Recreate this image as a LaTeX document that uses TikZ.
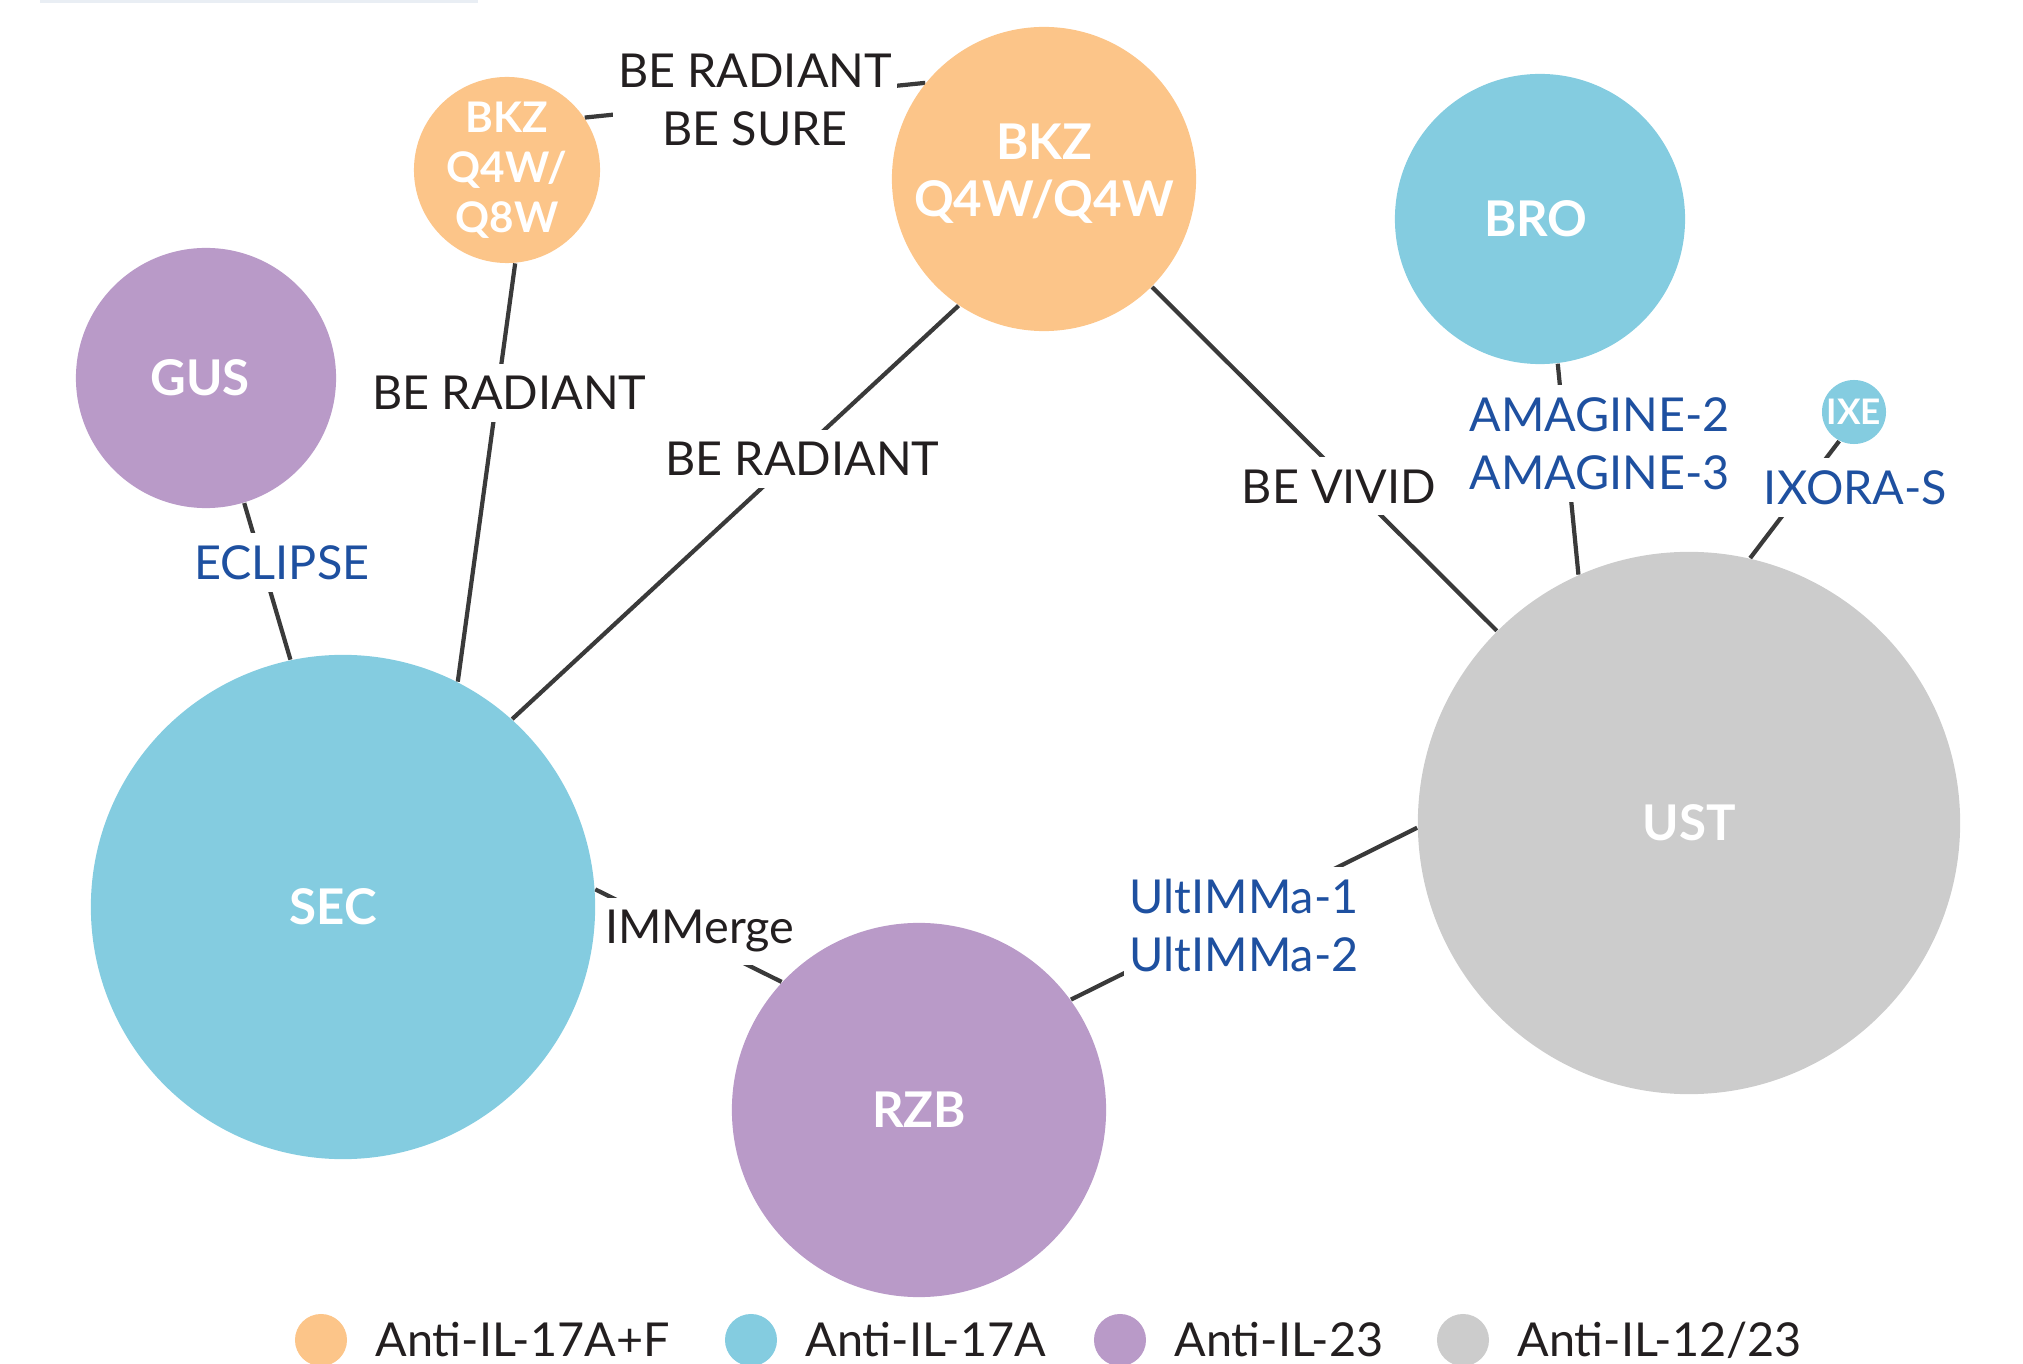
\documentclass[tikz,border=0pt]{standalone}
\usepackage{fontspec}
\setmainfont{Lato}
\usepackage{tikz}
\usetikzlibrary{positioning,calc,backgrounds}

\definecolor{orangefill}{HTML}{FCC589}
\definecolor{bluefill}{HTML}{84CCE0}
\definecolor{purplefill}{HTML}{B99AC8}
\definecolor{greyfill}{HTML}{CCCCCC}
\definecolor{trialblue}{HTML}{1E50A0}
\definecolor{linegrey}{HTML}{3A3A3A}
\definecolor{textdark}{HTML}{231F20}
\definecolor{edgeline}{HTML}{E9EEF4}

\begin{document}
\begin{tikzpicture}[x=0.01cm,y=-0.01cm,
  drug/.style={circle,inner sep=0pt,text=white,align=center,font=\fontsize{14}{16.2}\selectfont\bfseries},
  link/.style={draw=linegrey,line width=1.2pt},
  lbl/.style={fill=white,inner xsep=1.5pt,inner ysep=3.5pt,align=center,text=textdark,font=\fontsize{13.3}{16.5}\selectfont},
  trial/.style={lbl,text=trialblue},
  legdot/.style={circle,inner sep=0pt,minimum size=0.52cm}]
  \useasboundingbox (0,0) rectangle (2023,1364);
  \fill[edgeline] (40,0) rectangle (478,3);

  % drugs
  \node[drug,fill=orangefill,minimum size=1.86cm,font=\fontsize{12}{14.2}\selectfont\bfseries] (bkzq8) at (507,170) {BKZ\\Q4W/\\Q8W};
  \node[drug,fill=orangefill,minimum size=3.04cm,text depth=5pt] (bkzq4) at (1044,179) {BKZ\\Q4W/Q4W};
  \node[drug,fill=bluefill,minimum size=2.90cm] (bro) at (1540,219) {BRO\hspace*{0.08cm}};
  \node[drug,fill=purplefill,minimum size=2.60cm] (gus) at (206,378) {GUS\hspace*{0.12cm}};
  \node[drug,fill=bluefill,minimum size=0.64cm,font=\fontsize{10}{12}\selectfont\bfseries] (ixe) at (1854,412) {IXE};
  \node[drug,fill=bluefill,minimum size=5.04cm] (sec) at (343,907) {SEC\hspace*{0.2cm}};
  \node[drug,fill=greyfill,minimum size=5.42cm] (ust) at (1689,823) {UST};
  \node[drug,fill=purplefill,minimum size=3.74cm] (rzb) at (919,1110) {RZB};

  % trials
  \begin{scope}[on background layer]
  \draw[link] (bkzq8.34) -- node[lbl]{BE RADIANT\\BE SURE} (bkzq4.141);
  \draw[link] (bkzq8.275) -- node[lbl,pos=0.31,xshift=0.12cm]{BE RADIANT} (sec.63);
  \draw[link] (bkzq4.236) -- node[lbl,pos=0.37,xshift=0.09cm]{BE RADIANT} (sec.48);
  \draw[link] (bkzq4.-45) -- node[lbl,pos=0.58,xshift=-0.13cm]{BE VIVID} (ust.135);
  \draw[link] (bro.277) -- node[trial,pos=0.38,xshift=0.34cm]{AMAGINE-2\\AMAGINE-3} (ust.114);
  \draw[link] (ixe.243) -- node[trial,pos=0.4,xshift=0.52cm]{IXORA-S} (ust.77);
  \draw[link] (ust.181) -- node[trial,pos=0.5,yshift=-0.12cm]{UltIMMa-1\\UltIMMa-2} (rzb.36);
  \draw[link] (sec.4) -- node[lbl,pos=0.56,yshift=0.1cm]{IMMerge} (rzb.137);
  \draw[link] (gus.287) -- node[trial,pos=0.38,xshift=0.2cm]{ECLIPSE} (sec.102);
  \end{scope}

  % legend
  \foreach \x/\c/\name in {321/orangefill/Anti-IL-17A+F,751/bluefill/Anti-IL-17A,1120/purplefill/Anti-IL-23,1463/greyfill/{Anti-IL-12/23}}{
    \node[legdot,fill=\c] (key\x) at (\x,1340) {};
    \node[right=0.27cm of key\x,inner sep=0pt,text=textdark,font=\fontsize{13.3}{16}\selectfont] (keytext\x) {\name};
  }
\end{tikzpicture}
\end{document}
